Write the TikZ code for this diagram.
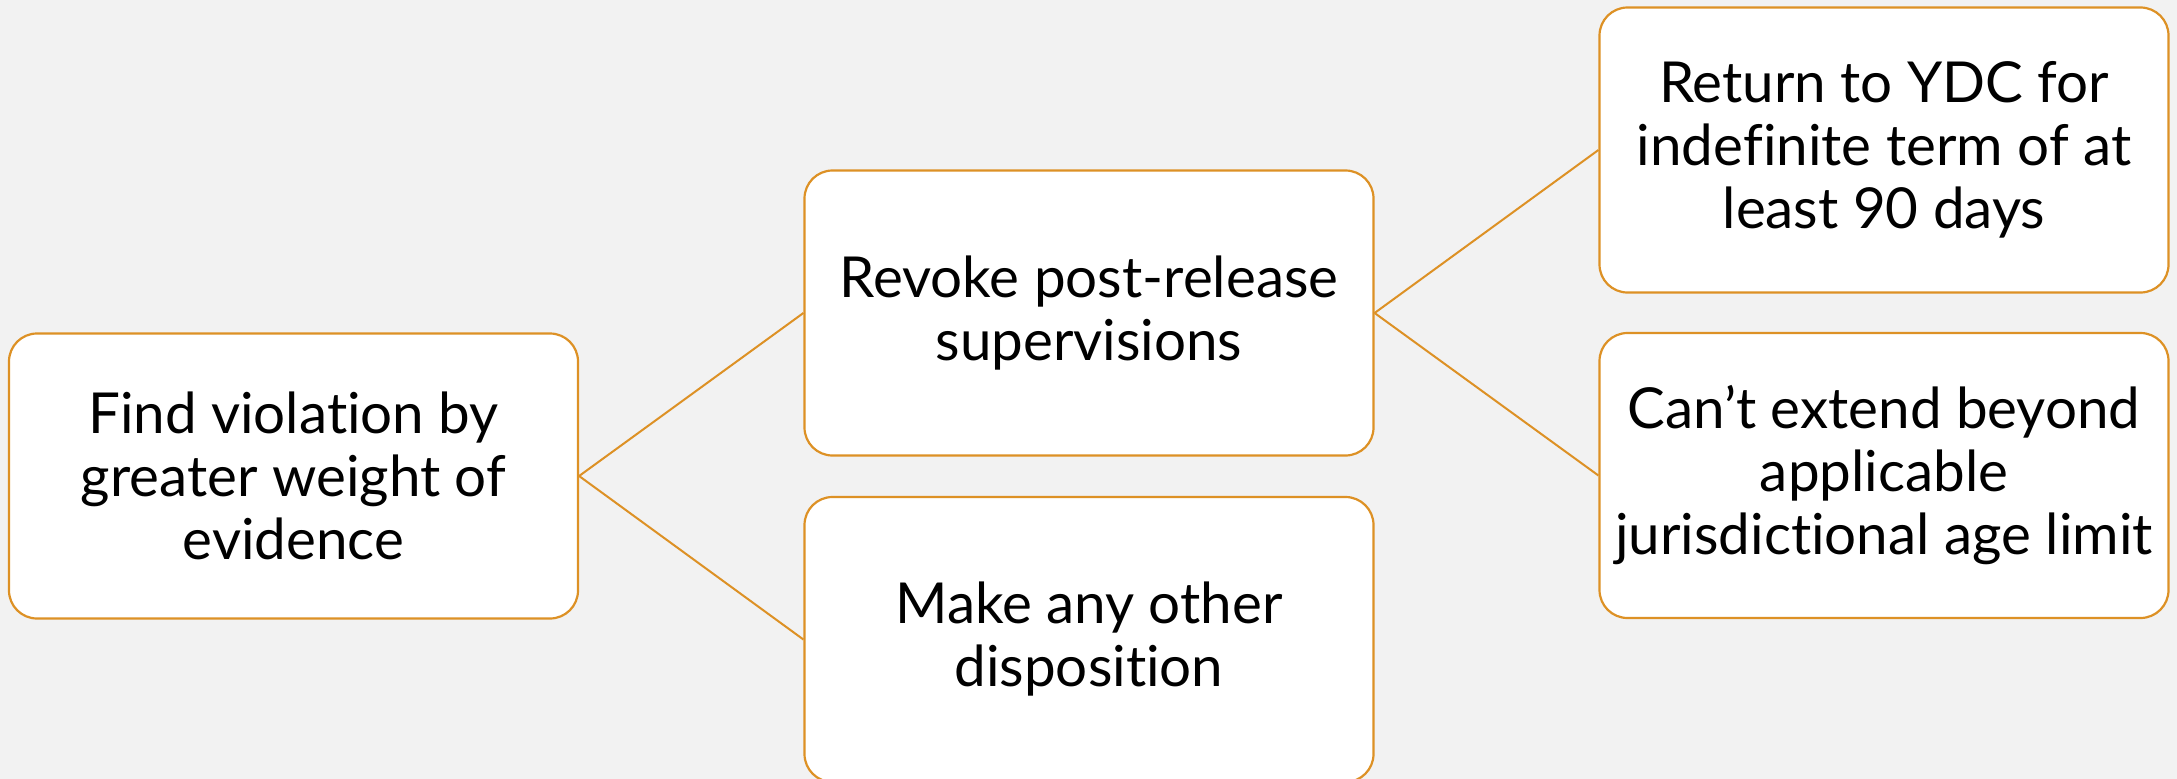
\documentclass[tikz,border=0pt]{standalone}
\usepackage{fontspec}
\setmainfont{Lato}[Ligatures=NoCommon]
\definecolor{bgc}{HTML}{F2F2F2}
\definecolor{edgec}{HTML}{DD9125}
\begin{document}
\begin{tikzpicture}[x=1pt,y=-1pt,
  box/.style={draw=edgec,line width=2.2pt,fill=white,rounded corners=28pt,
    minimum width=569pt,minimum height=285pt,inner sep=0pt,align=center,
    font=\fontsize{56.5}{63}\selectfont},
  link/.style={draw=edgec,line width=2pt}]
\useasboundingbox (0,0) rectangle (2177,779);
\fill[bgc] (0,0) rectangle (2177,779);
\node[box] (a) at (293.5,476) {Find violation by\\greater weight of\\evidence};
\node[box] (b) at (1089,313) {Revoke post-release\\supervisions};
\node[box] (c) at (1089,639.5) {Make any other\\disposition};
\node[box] (d) at (1884,150) {Return to YDC for\\indefinite term of at\\least 90 days};
\node[box] (e) at (1884,475.5) {Can’t extend beyond\\applicable\\jurisdictional age limit};
\draw[link] (a.east) -- (b.west);
\draw[link] (a.east) -- (c.west);
\draw[link] (b.east) -- (d.west);
\draw[link] (b.east) -- (e.west);
\end{tikzpicture}
\end{document}
